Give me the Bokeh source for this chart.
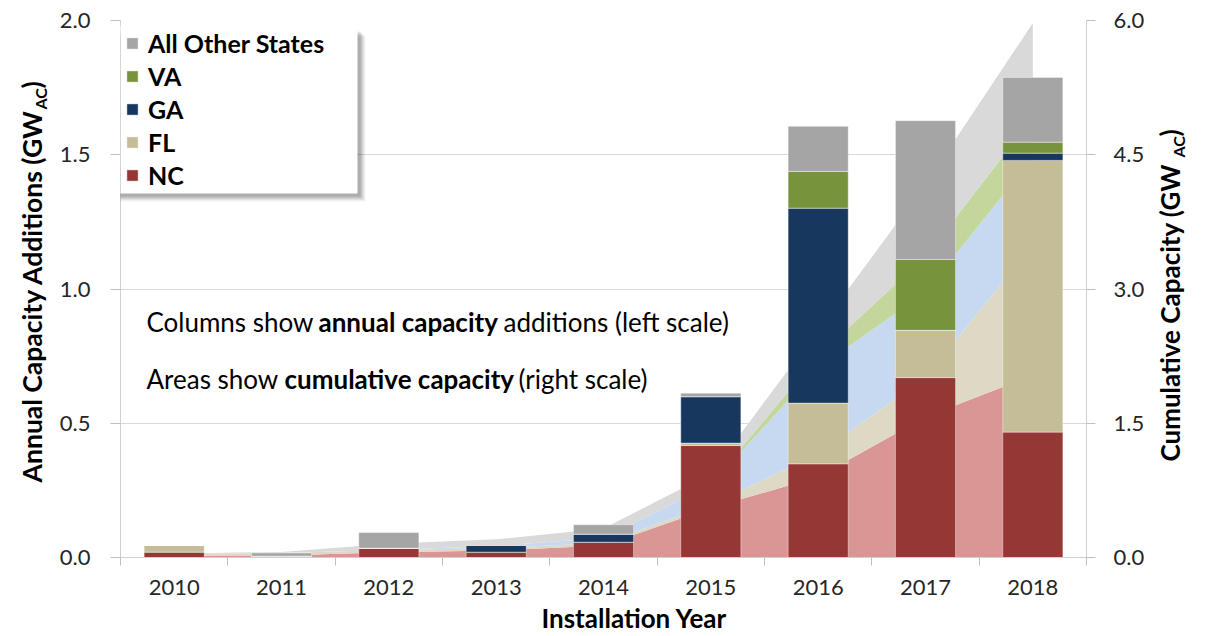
import math
from bokeh.plotting import figure
from bokeh.layouts import row
from bokeh.models import (ColumnDataSource, Range1d, LinearAxis, FixedTicker, Legend,
                          LegendItem, Label, BoxAnnotation, NumeralTickFormatter, Title)
from bokeh.embed import file_html
from bokeh.resources import INLINE

# ---------------- data ----------------
years = [2010, 2011, 2012, 2013, 2014, 2015, 2016, 2017, 2018]
year_labels = ["2010", "2011", "2012", "2013", "2014", "2015", "2016", "2017", "2018"]

# annual capacity additions (GWac, left scale)
nc_annual = [0.020, 0.003, 0.035, 0.020, 0.057, 0.417, 0.349, 0.670, 0.467]
fl_annual = [0.025, 0.002, 0.000, 0.000, 0.000, 0.009, 0.226, 0.176, 1.012]
ga_annual = [0.000, 0.000, 0.000, 0.025, 0.030, 0.173, 0.726, 0.000, 0.027]
va_annual = [0.000, 0.000, 0.000, 0.000, 0.000, 0.000, 0.137, 0.264, 0.041]
other_annual = [0.000, 0.012, 0.058, 0.003, 0.035, 0.013, 0.168, 0.517, 0.241]

# cumulative capacity (GWac, right scale)
nc_cum = [0.020, 0.023, 0.058, 0.078, 0.135, 0.552, 0.901, 1.571, 2.038]
fl_cum = [0.025, 0.027, 0.027, 0.027, 0.027, 0.036, 0.262, 0.438, 1.450]
ga_cum = [0.000, 0.000, 0.000, 0.025, 0.055, 0.228, 0.954, 0.954, 0.981]
va_cum = [0.000, 0.000, 0.000, 0.000, 0.000, 0.000, 0.137, 0.401, 0.442]
other_cum = [0.000, 0.012, 0.070, 0.073, 0.108, 0.121, 0.289, 0.806, 1.060]

series_names = ["NC", "FL", "GA", "VA", "All Other States"]
bar_colors = ["#953735", "#C4BD97", "#17375E", "#77933C", "#A5A5A5"]
area_colors = ["#D99694", "#DDD9C4", "#C6D9F1", "#C3D69B", "#D9D9D9"]

left_ticks = [0.0, 0.5, 1.0, 1.5, 2.0]
right_ticks = [0.0, 1.5, 3.0, 4.5, 6.0]

FONT = "Lato"
TICK_SIZE = "22px"

src = ColumnDataSource(dict(
    year=years,
    nc=nc_annual, fl=fl_annual, ga=ga_annual, va=va_annual, oth=other_annual,
    nc_c=nc_cum, fl_c=fl_cum, ga_c=ga_cum, va_c=va_cum, oth_c=other_cum,
))

H = 636
LW, RW = 50, 54
MW = 1206 - LW - RW

p = figure(width=MW, height=H, output_backend="svg", toolbar_location=None,
           x_range=Range1d(years[0] - 0.5, years[-1] + 0.5),
           y_range=Range1d(left_ticks[0], left_ticks[-1]),
           min_border_left=70, min_border_right=66, min_border_top=20,
           min_border_bottom=79)
p.extra_y_ranges = {"cum": Range1d(right_ticks[0], right_ticks[-1])}
p.outline_line_color = None
p.background_fill_color = "white"
p.border_fill_color = "white"

# cumulative areas (behind)
p.varea_stack(stackers=["nc_c", "fl_c", "ga_c", "va_c", "oth_c"], x="year",
              color=area_colors, source=src, y_range_name="cum")

# annual bars
bars = p.vbar_stack(["nc", "fl", "ga", "va", "oth"], x="year", width=0.56,
                    fill_color=bar_colors, line_color="white", line_width=0.6,
                    line_alpha=0.7, source=src)

# ---------------- axes ----------------
p.xgrid.visible = False
p.ygrid.ticker = FixedTicker(ticks=left_ticks)
p.ygrid.grid_line_color = "#D9D9D9"
p.ygrid.level = "underlay"

xa = p.xaxis[0]
xa.ticker = FixedTicker(ticks=years, minor_ticks=[y - 0.5 for y in years] + [years[-1] + 0.5])
xa.major_label_overrides = {y: l for y, l in zip(years, year_labels)}
xa.major_tick_out = 0
xa.major_tick_in = 0
xa.minor_tick_out = 8
xa.minor_tick_in = 0
xa.minor_tick_line_color = "#BFBFBF"
xa.axis_line_color = "#D0D0D0"
xa.major_label_text_font = FONT
xa.major_label_text_font_size = TICK_SIZE
xa.major_label_text_color = "#262626"
xa.major_label_standoff = 14

ya = p.yaxis[0]
ya.ticker = FixedTicker(ticks=left_ticks)
ya.formatter = NumeralTickFormatter(format="0.0")
ya.major_tick_out = 10
ya.major_tick_in = 0
ya.minor_tick_out = 0
ya.minor_tick_in = 0
ya.major_tick_line_color = "#BFBFBF"
ya.axis_line_color = "#D0D0D0"
ya.major_label_text_font = FONT
ya.major_label_text_font_size = TICK_SIZE
ya.major_label_text_color = "#262626"
ya.major_label_standoff = 20

ra = LinearAxis(y_range_name="cum", ticker=FixedTicker(ticks=right_ticks),
                formatter=NumeralTickFormatter(format="0.0"))
ra.major_tick_out = 9
ra.major_tick_in = 0
ra.minor_tick_out = 0
ra.minor_tick_in = 0
ra.major_tick_line_color = "#BFBFBF"
ra.axis_line_color = "#D0D0D0"
ra.major_label_text_font = FONT
ra.major_label_text_font_size = TICK_SIZE
ra.major_label_text_color = "#262626"
ra.major_label_standoff = 18
p.add_layout(ra, "right")

# x-axis title, placed as in the reference (slightly right of centre)
p.add_layout(Title(text="Installation Year", align="left", offset=421, standoff=5,
                   text_font=FONT, text_font_style="bold", text_font_size="26px",
                   text_color="#000000"), "below")


def lab(fig, text, x, y, size, bold=True, angle=0.0, align="left", color="#000000"):
    fig.add_layout(Label(x=x, y=y, x_units="screen", y_units="screen", text=text,
                         angle=angle, text_align=align, text_baseline="alphabetic",
                         text_font=FONT, text_font_size=size,
                         text_font_style="bold" if bold else "normal",
                         text_color=color))


# ---------------- annotation text (main frame, screen units from bottom-left) ----------------
ANN = "26px"
lab(p, "Columns show", 26, 236, ANN, bold=False)
lab(p, "annual capacity", 198, 236, ANN, bold=True)
lab(p, "additions (left scale)", 383, 236, ANN, bold=False)
lab(p, "Areas show", 26, 179, ANN, bold=False)
lab(p, "cumulative capacity", 164, 179, ANN, bold=True)
lab(p, "(right scale)", 398, 179, ANN, bold=False)

# ---------------- legend box with shadow ----------------
BL, BR, BT, BB = -20, 237, 532, 364
for off, a in [(8, 0.04), (7, 0.05), (6, 0.06), (5, 0.07), (4, 0.07), (3, 0.07)]:
    p.add_layout(BoxAnnotation(left=BL + off - 3, right=BR + off, top=BT - off - 3, bottom=BB - off,
                               left_units="screen", right_units="screen",
                               top_units="screen", bottom_units="screen",
                               fill_color="black", fill_alpha=a, line_color=None))
p.add_layout(BoxAnnotation(left=BL, right=BR, top=BT, bottom=BB,
                           left_units="screen", right_units="screen",
                           top_units="screen", bottom_units="screen",
                           fill_color="white", fill_alpha=1.0, line_color=None))

order = [4, 3, 2, 1, 0]
legend = Legend(items=[LegendItem(label=series_names[i], renderers=[bars[i]]) for i in order],
                location=(5, 367), background_fill_alpha=0, border_line_color=None,
                padding=0, margin=0, spacing=3, label_height=30, glyph_height=14,
                glyph_width=14, label_standoff=9, label_text_font=FONT,
                label_text_font_style="bold", label_text_font_size="25px",
                label_text_color="#000000")
p.add_layout(legend)

# ---------------- side strips holding the rotated axis titles ----------------
# (row alignment gives the strips the same frame top/bottom as the main plot)
A90 = math.pi / 2


def strip(w):
    f = figure(width=w, height=H, output_backend="svg", toolbar_location=None,
               x_range=Range1d(0, 1), y_range=Range1d(0, 1),
               x_axis_type=None, y_axis_type=None, min_border=0)
    f.min_border_left = f.min_border_right = 0
    f.min_border_top = 20
    f.min_border_bottom = 79
    f.outline_line_color = None
    f.xgrid.visible = False
    f.ygrid.visible = False
    return f


left_strip = strip(LW)
lab(left_strip, "Annual Capacity Additions (GW", 31, 448, "26.5px", angle=A90, align="right")
lab(left_strip, "AC", 40, 448, "16px", angle=A90)
lab(left_strip, ")", 31, 469, "26.5px", angle=A90)

right_strip = strip(RW)
lab(right_strip, "Cumulative  Capacity (GW", 17, 400, "26px", angle=A90, align="right")
lab(right_strip, "AC", 26, 400, "16px", angle=A90)
lab(right_strip, ")", 17, 421, "26px", angle=A90)

layout = row(left_strip, p, right_strip, spacing=0)

open("out.html", "w").write(file_html(layout, INLINE))
